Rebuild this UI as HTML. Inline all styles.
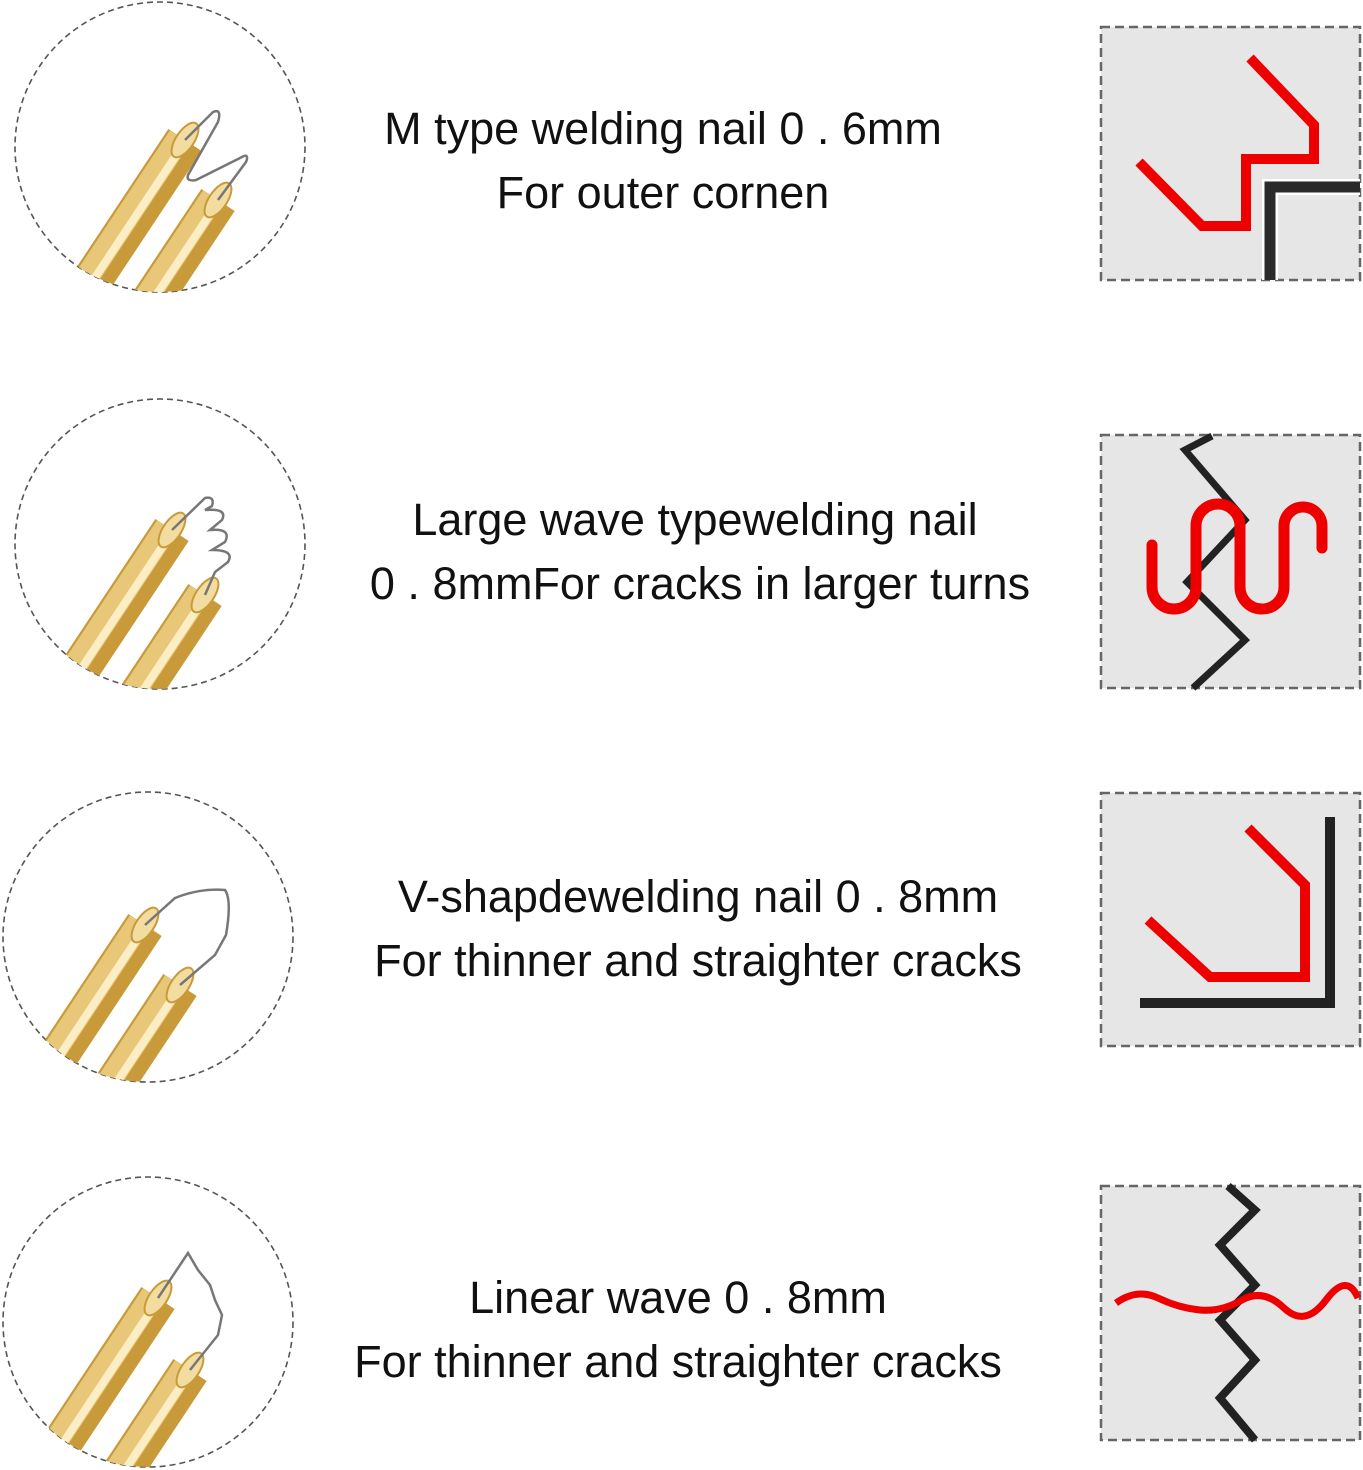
<!DOCTYPE html>
<html><head><meta charset="utf-8"><style>
html,body{margin:0;padding:0;background:#fff;width:1363px;height:1470px;overflow:hidden}
svg{display:block;position:absolute;left:0;top:0}
text{font-family:"Liberation Sans",sans-serif;font-size:45px;fill:#111;text-anchor:middle}
</style></head><body>
<svg width="1363" height="1470" viewBox="0 0 1363 1470">
<defs>
<clipPath id="c1"><circle cx="160" cy="147" r="145"/></clipPath>
<clipPath id="c2"><circle cx="160" cy="544" r="145"/></clipPath>
<clipPath id="c3"><circle cx="148" cy="937" r="145"/></clipPath>
<clipPath id="c4"><circle cx="148" cy="1322" r="145"/></clipPath>
<g id="rod">
<line x1="0" y1="0" x2="-140" y2="211" stroke="#c89a3a" stroke-width="40"/>
<line x1="-5" y1="-3" x2="-145" y2="208" stroke="#e8c779" stroke-width="24"/>
<line x1="-2" y1="5" x2="-142" y2="216" stroke="#fbeec4" stroke-width="8"/>
<ellipse cx="0" cy="0" rx="20" ry="9" transform="rotate(-56)" fill="#f3dca0" stroke="#c89a3a" stroke-width="2"/>
</g>
</defs>

<g fill="none" stroke="#555" stroke-width="1.6" stroke-dasharray="6,4">
<circle cx="160" cy="147" r="145"/><circle cx="160" cy="544" r="145"/>
<circle cx="148" cy="937" r="145"/><circle cx="148" cy="1322" r="145"/>
</g>

<g clip-path="url(#c1)">
<use href="#rod" x="185" y="140"/><use href="#rod" x="218" y="200"/>
<path d="M185,140 L213,112 Q222,108 218,122 L188,175 Q186,182 196,180 L240,158 Q250,152 246,162 L218,200" fill="none" stroke="#777" stroke-width="2.5"/>
</g>
<g clip-path="url(#c2)">
<use href="#rod" x="172" y="530"/><use href="#rod" x="205" y="595"/>
<path d="M172,530 L205,498 Q215,496 212,506 L205,510 Q228,508 222,520 L210,530 Q232,528 225,542 L212,550 Q235,550 228,562 L215,572 L205,595" fill="none" stroke="#777" stroke-width="2.5"/>
</g>
<g clip-path="url(#c3)">
<use href="#rod" x="145" y="925"/><use href="#rod" x="180" y="985"/>
<path d="M145,925 L175,898 Q200,888 225,890 Q232,900 226,935 L215,955 L180,985" fill="none" stroke="#777" stroke-width="2.5"/>
</g>
<g clip-path="url(#c4)">
<use href="#rod" x="158" y="1298"/><use href="#rod" x="190" y="1370"/>
<path d="M158,1298 L188,1253 L198,1270 L210,1285 L215,1300 L222,1315 L218,1335 L190,1370" fill="none" stroke="#777" stroke-width="2.5"/>
</g>

<text x="663" y="144">M type welding nail 0 . 6mm</text>
<text x="663" y="208">For outer cornen</text>
<text x="695" y="535">Large wave typewelding nail</text>
<text x="700" y="599">0 . 8mmFor cracks in larger turns</text>
<text x="698" y="912">V-shapdewelding nail 0 . 8mm</text>
<text x="698" y="976">For thinner and straighter cracks</text>
<text x="678" y="1313">Linear wave 0 . 8mm</text>
<text x="678" y="1377">For thinner and straighter cracks</text>

<g fill="#e6e6e6" stroke="#666" stroke-width="2.5" stroke-dasharray="9,5">
<rect x="1101" y="27" width="259" height="253"/>
<rect x="1101" y="435" width="259" height="253"/>
<rect x="1101" y="793" width="259" height="253"/>
<rect x="1101" y="1186" width="259" height="254"/>
</g>
<polyline points="1270,280 1270,187 1360,187" fill="none" stroke="#fff" stroke-width="16"/>
<polyline points="1270,280 1270,187 1360,187" fill="none" stroke="#2a2a2a" stroke-width="11"/>
<polyline points="1139,162 1202,226 1246,226 1246,159 1314,159 1314,125 1250,58" fill="none" stroke="#e00" stroke-width="10"/>
<polyline points="1212,436 1185,450 1245,520 1187,582 1245,640 1193,688" fill="none" stroke="#222" stroke-width="7"/>
<path d="M1152,545 L1152,587 A22,22 0 0 0 1196,587 L1196,526 A22,22 0 0 1 1240,526 L1240,587 A22,22 0 0 0 1284,587 L1284,526 A19,19 0 0 1 1322,526 L1322,548" fill="none" stroke="#e00" stroke-width="11" stroke-linecap="round"/>
<polyline points="1140,1003 1330,1003 1330,817" fill="none" stroke="#222" stroke-width="10"/>
<polyline points="1148,920 1210,977 1305,977 1305,885 1248,828" fill="none" stroke="#e00" stroke-width="10"/>
<polyline points="1228,1186 1255,1210 1220,1245 1255,1285 1220,1320 1255,1360 1220,1398 1255,1440" fill="none" stroke="#222" stroke-width="8"/>
<path d="M1116,1303 Q1137,1288 1158,1298 T1200,1310 T1242,1300 T1284,1308 T1326,1300 T1358,1298" fill="none" stroke="#e00" stroke-width="7"/>
</svg>
</body></html>
